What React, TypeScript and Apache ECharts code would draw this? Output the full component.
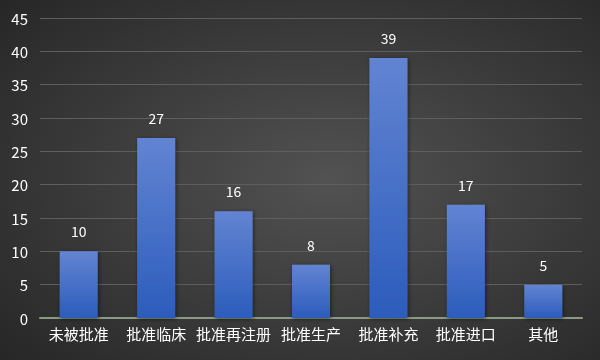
import React, { useEffect, useRef } from "react";
import * as echarts from "echarts";

const categories = ["未被批准", "批准临床", "批准再注册", "批准生产", "批准补充", "批准进口", "其他"];
const values = [10, 27, 16, 8, 39, 17, 5];

export default function App() {
  const ref = useRef<HTMLDivElement>(null);
  useEffect(() => {
    const chart = echarts.init(ref.current!, null, { renderer: "svg" });
    const font = "'Noto Sans CJK SC', 'Noto Sans', sans-serif";
    chart.setOption({
      animation: false,
      backgroundColor: {
        type: "radial",
        x: 0.55,
        y: 0.5,
        r: 0.75,
        colorStops: [
          { offset: 0, color: "#525252" },
          { offset: 1, color: "#262626" },
        ],
      },
      grid: { left: 40, right: 18, top: 18, bottom: 42 },
      xAxis: {
        type: "category",
        data: categories,
        axisLine: { lineStyle: { color: "#8a9a84", width: 2 } },
        axisTick: { show: false },
        axisLabel: { color: "#ffffff", fontSize: 15, fontFamily: font, margin: 8, interval: 0 },
      },
      yAxis: {
        type: "value",
        min: 0,
        max: 45,
        interval: 5,
        axisLine: { show: false },
        axisTick: { show: false },
        splitLine: { lineStyle: { color: "#5e5e5e", width: 1 } },
        axisLabel: { color: "#ffffff", fontSize: 15, fontFamily: font, margin: 12 },
      },
      series: [
        {
          type: "bar",
          data: values,
          barWidth: 38,
          itemStyle: {
            color: {
              type: "linear",
              x: 0, y: 0, x2: 0, y2: 1,
              colorStops: [
                { offset: 0, color: "#6284d2" },
                { offset: 1, color: "#2c5cbc" },
              ],
            },
            shadowColor: "rgba(0,0,0,0.5)",
            shadowBlur: 4,
            shadowOffsetX: 1,
            shadowOffsetY: 1,
          },
          label: {
            show: true,
            position: "top",
            distance: 13,
            color: "#ffffff",
            fontSize: 14,
            fontFamily: font,
          },
        },
      ],
    });
    return () => chart.dispose();
  }, []);
  return <div ref={ref} style={{ width: 600, height: 360, position: "fixed", left: 0, top: 0 }} />;
}
